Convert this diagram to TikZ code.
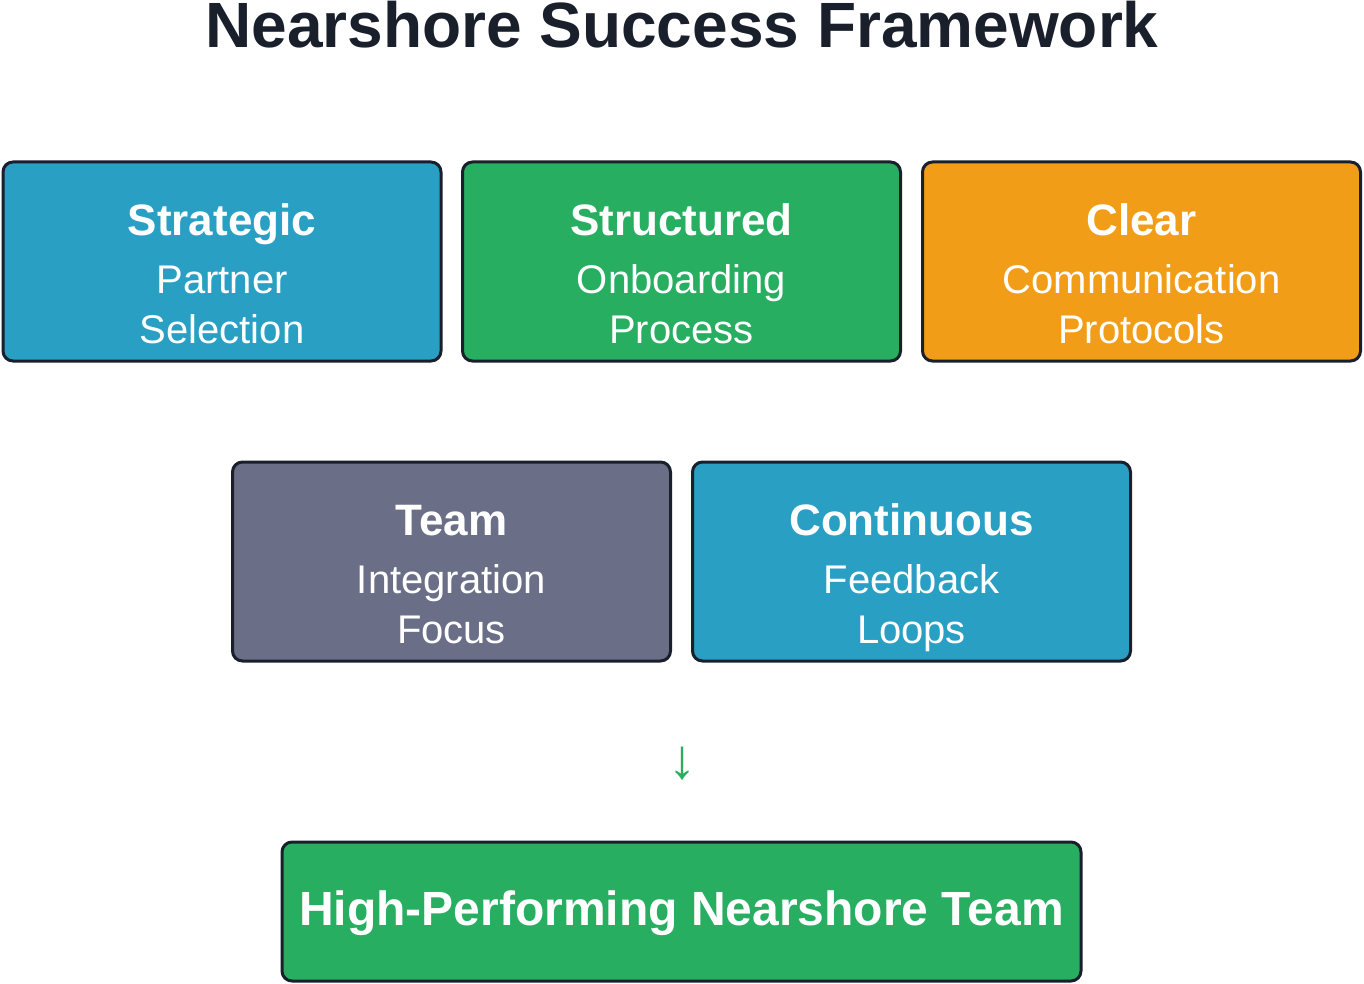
\documentclass[tikz,border=0pt]{standalone}
\definecolor{pillarblue}{RGB}{42,159,196}
\definecolor{pillargreen}{RGB}{39,174,96}
\definecolor{pillarorange}{RGB}{242,157,24}
\definecolor{pillargray}{RGB}{106,111,135}
\definecolor{pillarink}{RGB}{26,31,44}
\usepackage{fontspec}
\setmainfont{Liberation Sans}
\usepackage{tikz}
\newcommand{\pillartext}[3]{\rule{0pt}{65pt}{\fontsize{44}{50}\selectfont\bfseries #1}\\[8pt]#2\\\rule[-10pt]{0pt}{10pt}#3}

\begin{document}
\begin{tikzpicture}[x=1pt,y=-1pt,
		pillar/.style={draw=pillarink,line width=3pt,rounded corners=10pt,minimum width=438pt,minimum height=199pt,inner sep=0pt,align=center,text=white,font=\fontsize{40}{50}\selectfont}]
			\useasboundingbox (0,0) rectangle (1364,984);
			\node[anchor=base,font=\fontsize{64}{70}\selectfont\bfseries,text=pillarink] (title) at (682,48) {Nearshore Success Framework};
			\node[pillar,fill=pillarblue] (strategic) at (222,261.5) {\pillartext{Strategic}{Partner}{Selection}};
			\node[pillar,fill=pillargreen] (structured) at (681.5,261.5) {\pillartext{Structured}{Onboarding}{Process}};
			\node[pillar,fill=pillarorange] (clear) at (1141.5,261.5) {\pillartext{Clear}{Communication}{Protocols}};
			\node[pillar,fill=pillargray] (team) at (451.5,561.5) {\pillartext{Team}{Integration}{Focus}};
			\node[pillar,fill=pillarblue] (continuous) at (911.5,561.5) {\pillartext{Continuous}{Feedback}{Loops}};
			\node[font=\fontsize{56}{60}\selectfont,text=pillargreen] (arrow) at (682,764) {↓};
			\node[pillar,fill=pillargreen,minimum width=799pt,minimum height=139pt,font=\fontsize{48}{56}\selectfont\bfseries,text height=37pt,text depth=10pt] (result) at (681.5,911.5) {High-Performing Nearshore Team};
		\end{tikzpicture}
\end{document}
